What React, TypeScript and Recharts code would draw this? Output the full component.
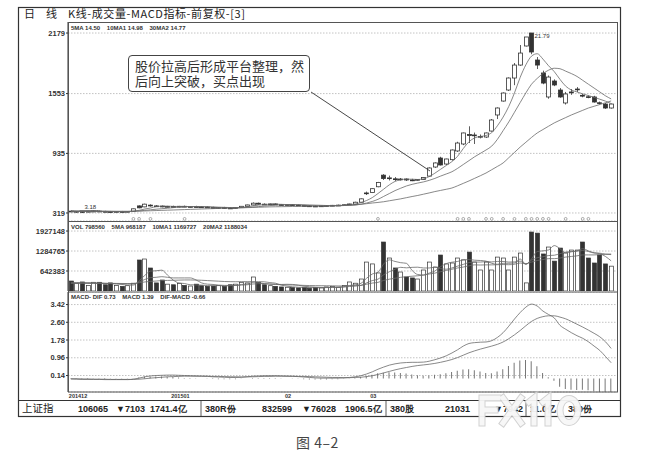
import React from "react";
import { ComposedChart, Bar, Line, XAxis, YAxis, CartesianGrid } from "recharts";

// daily candles, prices in 1/100 yuan (axis shows 319 ... 2179)
const OPEN = [
  338, 332, 334, 330, 336, 338, 335, 333, 331, 334,
  332, 335, 392, 382, 400, 392, 390, 382, 386, 384,
  388, 383, 385, 382, 380, 376, 372, 375, 370, 368,
  375, 388, 402, 420, 410, 408, 412, 405, 402, 404,
  400, 396, 392, 390, 388, 392, 395, 398, 400, 404,
  408, 430, 518, 530, 590, 710, 680, 672, 664, 670,
  660, 657, 665, 700, 794, 887, 825, 870, 960, 1032,
  1130, 1120, 1104, 1104, 1166, 1332, 1476, 1590, 1714, 1848,
  2045, 2179, 1900, 1766, 1518, 1683, 1590, 1456, 1565, 1595,
  1535, 1520, 1518, 1458, 1445, 1404,
];
const HIGH = [
  345, 340, 338, 340, 342, 344, 341, 340, 338, 340,
  338, 366, 398, 415, 408, 400, 396, 392, 394, 392,
  395, 390, 393, 388, 387, 383, 380, 382, 378, 378,
  390, 405, 428, 426, 418, 416, 418, 412, 410, 410,
  406, 402, 398, 396, 395, 398, 402, 405, 408, 415,
  435, 470, 540, 575, 640, 720, 705, 690, 680, 676,
  672, 670, 688, 790, 842, 900, 880, 975, 1055, 1150,
  1215, 1150, 1130, 1150, 1290, 1410, 1565, 1720, 1869, 2055,
  2138, 2179, 1931, 1790, 1740, 1700, 1610, 1570, 1600, 1620,
  1550, 1535, 1530, 1470, 1455, 1450,
];
const LOW = [
  328, 320, 318, 326, 330, 332, 329, 327, 326, 328,
  327, 332, 368, 378, 385, 384, 378, 376, 380, 377,
  380, 376, 379, 374, 372, 368, 366, 367, 362, 364,
  372, 385, 398, 405, 402, 400, 403, 398, 396, 397,
  393, 388, 386, 384, 383, 386, 390, 392, 395, 400,
  405, 428, 505, 525, 585, 660, 655, 650, 655, 650,
  648, 650, 660, 695, 785, 810, 815, 860, 950, 1020,
  1042, 1032, 1090, 1095, 1160, 1290, 1470, 1580, 1640, 1840,
  2040, 1960, 1807, 1650, 1500, 1630, 1510, 1440, 1540, 1570,
  1515, 1505, 1460, 1440, 1395, 1398,
];
const CLOSE = [
  332, 335, 330, 336, 338, 335, 333, 331, 334, 332,
  335, 362, 372, 410, 392, 388, 382, 386, 384, 388,
  383, 385, 382, 380, 376, 372, 375, 370, 368, 375,
  388, 402, 420, 410, 408, 412, 405, 402, 404, 400,
  396, 392, 390, 388, 392, 395, 398, 400, 404, 412,
  430, 465, 526, 570, 635, 675, 682, 668, 670, 660,
  657, 665, 685, 784, 836, 815, 877, 970, 1042, 1146,
  1120, 1125, 1110, 1146, 1280, 1404, 1559, 1714, 1848, 1972,
  2138, 1983, 1848, 1662, 1724, 1642, 1518, 1549, 1570, 1600,
  1528, 1516, 1466, 1454, 1404, 1445,
];
const MA5 = [
  335, 335, 334, 334, 334, 335, 335, 334, 333, 333,
  333, 338, 346, 360, 370, 385, 389, 390, 387, 386,
  385, 385, 384, 383, 381, 378, 375, 373, 372, 372,
  376, 383, 392, 400, 406, 410, 411, 408, 406, 404,
  401, 398, 395, 392, 391, 391, 393, 396, 399, 404,
  412, 426, 448, 478, 520, 565, 610, 645, 662, 668,
  668, 665, 672, 695, 730, 770, 810, 850, 905, 985,
  1055, 1095, 1110, 1120, 1150, 1220, 1310, 1420, 1560, 1720,
  1850, 1940, 1965, 1910, 1840, 1780, 1700, 1630, 1590, 1570,
  1550, 1532, 1515, 1495, 1475, 1450,
];
const MA10 = [
  337, 337, 336, 336, 336, 336, 336, 335, 335, 335,
  335, 337, 340, 346, 352, 358, 363, 368, 374, 380,
  384, 385, 385, 384, 383, 381, 379, 377, 375, 374,
  374, 376, 380, 385, 390, 395, 399, 402, 404, 405,
  405, 404, 402, 400, 398, 396, 395, 395, 396, 398,
  402, 410, 422, 438, 460, 490, 520, 550, 575, 598,
  615, 628, 640, 656, 676, 700, 722, 745, 780, 820,
  860, 900, 935, 970, 1010, 1080, 1170, 1260, 1360, 1460,
  1560, 1650, 1710, 1760, 1795, 1815, 1810, 1785, 1760, 1730,
  1690, 1650, 1610, 1570, 1530, 1498,
];
const MA30 = [
  342, 341, 340, 339, 338, 338, 337, 337, 336, 336,
  336, 337, 338, 340, 342, 344, 346, 348, 350, 352,
  354, 356, 358, 360, 362, 364, 366, 368, 370, 371,
  372, 374, 376, 378, 380, 382, 383, 384, 385, 386,
  387, 388, 389, 390, 391, 392, 393, 394, 396, 398,
  402, 408, 415, 422, 428, 435, 445, 455, 465, 477,
  489, 500, 513, 526, 540, 552, 564, 577, 600, 625,
  650, 677, 704, 732, 766, 800, 836, 890, 945, 1000,
  1050, 1100, 1146, 1181, 1216, 1250, 1278, 1305, 1332, 1356,
  1380, 1404, 1422, 1440, 1458, 1477,
];
// days carrying the small signal marks under the candles
const SIGNAL_DAYS = [11, 12, 14, 20, 54, 68, 69, 70, 73, 74, 76, 78, 80, 81, 82, 83, 84, 87, 90, 91];

const VOL = [
  320000, 250000, 290000, 180000, 280000, 280000, 200000, 260000, 180000, 150000,
  170000, 250000, 996000, 1028000, 739000, 260000, 353000, 220000, 200000, 240000,
  180000, 160000, 220000, 170000, 150000, 160000, 180000, 150000, 200000, 220000,
  280000, 260000, 450000, 280000, 200000, 170000, 150000, 130000, 120000, 110000,
  100000, 120000, 90000, 110000, 100000, 130000, 150000, 120000, 180000, 290000,
  250000, 385000, 930000, 870000, 580000, 1574000, 1060000, 740000, 610000, 450000,
  420000, 385000, 675000, 930000, 770000, 1156000, 870000, 900000, 1060000, 1000000,
  1250000, 930000, 675000, 930000, 675000, 1090000, 1060000, 675000, 1090000, 1220000,
  260000, 1895000, 1860000, 1190000, 1413000, 960000, 1380000, 1220000, 1316000, 1316000,
  1574000, 1060000, 900000, 1156000, 870000, 798560,
];
const VOL_MA5 = [
  260000, 265000, 270000, 265000, 265000, 260000, 245000, 240000, 230000, 210000,
  190000, 190000, 330000, 500000, 640000, 650000, 670000, 510000, 350000, 260000,
  240000, 200000, 195000, 190000, 175000, 170000, 175000, 165000, 170000, 180000,
  210000, 225000, 280000, 300000, 295000, 270000, 250000, 190000, 155000, 135000,
  120000, 115000, 110000, 105000, 105000, 110000, 115000, 120000, 140000, 175000,
  200000, 245000, 410000, 545000, 600000, 870000, 1000000, 950000, 910000, 890000,
  660000, 530000, 515000, 575000, 640000, 780000, 880000, 925000, 950000, 1000000,
  1010000, 990000, 980000, 960000, 890000, 860000, 890000, 890000, 900000, 1030000,
  860000, 1030000, 1270000, 1290000, 1320000, 1460000, 1360000, 1230000, 1260000, 1290000,
  1360000, 1290000, 1230000, 1200000, 1110000, 968187,
];
const VOL_MA10 = [
  250000, 248000, 246000, 244000, 242000, 240000, 238000, 236000, 234000, 232000,
  230000, 225000, 290000, 370000, 430000, 440000, 460000, 440000, 420000, 420000,
  420000, 420000, 355000, 260000, 220000, 210000, 190000, 180000, 180000, 178000,
  190000, 200000, 225000, 235000, 238000, 225000, 215000, 210000, 215000, 210000,
  185000, 155000, 135000, 122000, 115000, 115000, 118000, 118000, 125000, 145000,
  160000, 180000, 260000, 335000, 380000, 520000, 620000, 700000, 760000, 745000,
  760000, 765000, 740000, 740000, 765000, 720000, 700000, 740000, 800000, 855000,
  913000, 930000, 930000, 945000, 935000, 950000, 950000, 930000, 935000, 960000,
  860000, 990000, 1070000, 1100000, 1140000, 1150000, 1200000, 1250000, 1270000, 1280000,
  1300000, 1270000, 1220000, 1215000, 1185000, 1169727,
];
const VOL_MA20 = [
  260000, 258000, 256000, 254000, 252000, 250000, 248000, 246000, 244000, 242000,
  240000, 240000, 265000, 290000, 310000, 320000, 335000, 340000, 345000, 350000,
  355000, 355000, 352000, 345000, 335000, 325000, 315000, 305000, 300000, 298000,
  300000, 300000, 300000, 270000, 235000, 220000, 212000, 200000, 195000, 192000,
  188000, 180000, 175000, 172000, 170000, 168000, 165000, 162000, 162000, 168000,
  172000, 180000, 218000, 255000, 278000, 340000, 380000, 410000, 440000, 460000,
  475000, 490000, 510000, 545000, 575000, 620000, 660000, 700000, 740000, 770000,
  810000, 840000, 835000, 840000, 840000, 845000, 850000, 845000, 860000, 900000,
  880000, 930000, 980000, 1010000, 1040000, 1040000, 1060000, 1090000, 1110000, 1130000,
  1160000, 1160000, 1160000, 1170000, 1180000, 1188034,
];

const DIF = [
  -0.02, -0.03, -0.04, -0.04, -0.04, -0.04, -0.05, -0.05, -0.05, -0.05,
  -0.05, -0.03, 0.02, 0.08, 0.12, 0.14, 0.15, 0.16, 0.16, 0.15,
  0.14, 0.13, 0.12, 0.11, 0.1, 0.08, 0.07, 0.06, 0.05, 0.05,
  0.06, 0.08, 0.11, 0.12, 0.13, 0.13, 0.13, 0.12, 0.11, 0.1,
  0.09, 0.07, 0.05, 0.03, 0.02, 0.02, 0.02, 0.02, 0.03, 0.05,
  0.08, 0.13, 0.21, 0.31, 0.43, 0.53, 0.62, 0.68, 0.72, 0.74,
  0.75, 0.75, 0.76, 0.8, 0.87, 0.95, 1.05, 1.18, 1.33, 1.5,
  1.62, 1.66, 1.68, 1.69, 1.75, 1.9, 2.12, 2.42, 2.75, 3.05,
  3.3, 3.44, 3.35, 3.12, 2.96, 2.8, 2.46, 2.28, 2.12, 1.98,
  1.86, 1.7, 1.5, 1.3, 1.02, 0.73,
];
const DEA = [
  -0.01, -0.01, -0.02, -0.02, -0.03, -0.03, -0.03, -0.04, -0.04, -0.04,
  -0.04, -0.04, -0.03, -0.01, 0.02, 0.04, 0.06, 0.08, 0.09, 0.1,
  0.11, 0.11, 0.11, 0.11, 0.11, 0.1, 0.1, 0.09, 0.08, 0.08,
  0.07, 0.08, 0.08, 0.09, 0.1, 0.1, 0.11, 0.11, 0.11, 0.11,
  0.1, 0.1, 0.09, 0.08, 0.07, 0.06, 0.05, 0.05, 0.04, 0.04,
  0.05, 0.06, 0.09, 0.13, 0.19, 0.26, 0.33, 0.4, 0.46, 0.51,
  0.56, 0.6, 0.63, 0.66, 0.7, 0.75, 0.81, 0.88, 0.97, 1.08,
  1.19, 1.28, 1.36, 1.43, 1.5, 1.58, 1.69, 1.84, 2.02, 2.22,
  2.44, 2.64, 2.78, 2.86, 2.9, 2.9, 2.84, 2.76, 2.64, 2.51,
  2.38, 2.24, 2.09, 1.93, 1.7, 1.39,
];
const HIST = [
  -0.01, -0.02, -0.02, -0.02, -0.01, -0.01, -0.02, -0.01, -0.01, -0.01,
  -0.01, 0.01, 0.05, 0.09, 0.1, 0.1, 0.09, 0.08, 0.07, 0.05,
  0.03, 0.02, 0.01, 0, -0.01, -0.02, -0.03, -0.03, -0.03, -0.03,
  -0.01, 0, 0.03, 0.03, 0.03, 0.03, 0.02, 0.01, 0, -0.01,
  -0.01, -0.03, -0.04, -0.05, -0.05, -0.04, -0.03, -0.03, -0.01, 0.01,
  0.03, 0.07, 0.12, 0.18, 0.24, 0.27, 0.29, 0.28, 0.26, 0.23,
  0.19, 0.15, 0.13, 0.14, 0.17, 0.2, 0.24, 0.3, 0.36, 0.42,
  0.43, 0.38, 0.32, 0.26, 0.25, 0.32, 0.43, 0.58, 0.73, 0.83,
  0.86, 0.8, 0.57, 0.26, 0.06, -0.1, -0.38, -0.48, -0.52, -0.53,
  -0.52, -0.54, -0.59, -0.63, -0.68, -0.66,
];

const MONTH_TICKS = [0, 18, 38, 53];
const MONTH_LABELS = ["201412", "201501", "02", "03"];
const PRICE_TICKS = [319, 935, 1553, 2179];
const VOL_TICKS = [642383, 1284765, 1927148];
const MACD_TICKS = [0.14, 0.96, 1.78, 2.6, 3.42];

const INK = "#333";
const LINE = "#6a6a6a";
const GRID = "#9a9a9a";
const NUM_FONT = '"Liberation Sans", "DejaVu Sans", Arial, sans-serif';
const CJK_FONT = '"Noto Sans CJK SC", sans-serif';
const SIGNAL_LEVEL = 258;

const rows = OPEN.map((o, i) => ({
  i,
  o,
  h: HIGH[i],
  l: LOW[i],
  c: CLOSE[i],
  range: [LOW[i], HIGH[i]],
  ma5: MA5[i],
  ma10: MA10[i],
  ma30: MA30[i],
  sig: SIGNAL_DAYS.includes(i) ? SIGNAL_LEVEL : null,
  vol: VOL[i],
  vma5: VOL_MA5[i],
  vma10: VOL_MA10[i],
  vma20: VOL_MA20[i],
  dif: DIF[i],
  dea: DEA[i],
  hist: HIST[i],
}));

const peakHigh = Math.max(...HIGH);
const bottomLow = Math.min(...LOW);

const tickStyle = { fontSize: 7.5, fontWeight: 700, fill: INK, fontFamily: NUM_FONT };
const legendStyle = { whiteSpace: "pre" as const };

function Candle(props: any) {
  const { x, y, width, height, payload } = props;
  if (x == null || !payload) return <g />;
  const { o, h, l, c } = payload;
  const top = Math.min(y, y + height);
  const span = Math.abs(height);
  const toY = (v: number) => (h > l ? top + ((h - v) / (h - l)) * span : top);
  const cx = Math.round(x + width / 2) + 0.5;
  const bodyTop = toY(Math.max(o, c));
  const bodyBot = toY(Math.min(o, c));
  const up = c >= o;
  const bw = 4;
  return (
    <g>
      <line x1={cx} x2={cx} y1={top} y2={bodyTop} stroke={INK} strokeWidth={0.8} />
      <line x1={cx} x2={cx} y1={bodyBot} y2={top + span} stroke={INK} strokeWidth={0.8} />
      <rect
        x={cx - bw / 2}
        y={bodyTop}
        width={bw}
        height={Math.max(bodyBot - bodyTop, 0.8)}
        fill={up ? "#fff" : INK}
        stroke={INK}
        strokeWidth={0.8}
      />
      {h === peakHigh && (
        <text x={cx + 3} y={top + 4.5} fontSize={6} fill={INK} fontFamily={NUM_FONT}>
          {(h / 100).toFixed(2)}
        </text>
      )}
      {l === bottomLow && (
        <g>
          <text x={cx + 2} y={top + span - 4} fontSize={6} fill={INK} fontFamily={NUM_FONT}>
            {(l / 100).toFixed(2)}
          </text>
          <line x1={cx - 3} x2={cx + 16} y1={top + span - 2.5} y2={top + span - 2.5} stroke={INK} strokeWidth={0.6} />
        </g>
      )}
    </g>
  );
}

function VolBar(props: any) {
  const { x, y, width, height, payload } = props;
  if (x == null || !payload) return <g />;
  const up = payload.c >= payload.o;
  const top = Math.min(y, y + height);
  const bw = 4;
  const cx = Math.round(x + width / 2) + 0.5;
  return (
    <rect
      x={cx - bw / 2}
      y={top}
      width={bw}
      height={Math.abs(height)}
      fill={up ? "#fff" : INK}
      stroke={INK}
      strokeWidth={0.7}
    />
  );
}

function SignalDot(props: any) {
  const { cx, cy, value, index } = props;
  if (value == null || cx == null || cy == null) return <g key={index} />;
  return <circle key={index} cx={cx} cy={cy} r={1.4} fill="#fff" stroke="#777" strokeWidth={0.6} />;
}

function MonthTick(props: any) {
  const { x, y, payload } = props;
  const k = MONTH_TICKS.indexOf(payload.value);
  if (k < 0) return <g />;
  return (
    <text x={x - 2} y={y + 6} fontSize={5.5} fontWeight={700} fill={INK} fontFamily={NUM_FONT}>
      {MONTH_LABELS[k]}
    </text>
  );
}

// faint site watermark drawn as strokes (F X 1 1 0)
function Watermark() {
  const parts = (
    <>
      <path d="M482 423 V398 H498 M482 410 H495" />
      <path d="M503 398 L521 423 M521 398 L503 423" />
      <path d="M529 402 L534 398 V423" />
      <path d="M543 402 L548 398 V423" />
      <ellipse cx={569} cy={410.5} rx={9} ry={12} />
    </>
  );
  return (
    <g fill="none" strokeLinecap="square" opacity={0.95}>
      <g stroke="#d0d0d0" strokeWidth={7}>{parts}</g>
      <g stroke="#f7f7f7" strokeWidth={5}>{parts}</g>
    </g>
  );
}

const MARGIN = { top: 0, right: 29, bottom: 0, left: 0 };
const XPAD = { left: 0, right: 3 };

export default function App() {
  return (
    <div style={{ position: "absolute", left: 0, top: 0, width: 646, height: 455, background: "#fff", overflow: "hidden" }}>
      {/* price panel */}
      <div style={{ position: "absolute", left: 0, top: 22 }}>
        <ComposedChart width={646} height={199} data={rows} margin={MARGIN}>
          <CartesianGrid vertical={false} stroke={GRID} strokeDasharray="1.5 1.5" strokeWidth={0.6} />
          <XAxis dataKey="i" hide padding={XPAD} />
          <YAxis
            type="number"
            domain={[236, 2293]}
            ticks={PRICE_TICKS}
            interval={0}
            allowDataOverflow
            width={68}
            tickSize={2}
            tickMargin={1}
            tick={tickStyle}
            tickLine={{ stroke: INK }}
            axisLine={{ stroke: INK }}
          />
          <Bar dataKey="range" barSize={5} shape={<Candle />} isAnimationActive={false} />
          <Line type="monotone" dataKey="ma5" stroke={LINE} strokeWidth={0.8} dot={false} activeDot={false} isAnimationActive={false} />
          <Line type="monotone" dataKey="ma10" stroke={LINE} strokeWidth={0.8} dot={false} activeDot={false} isAnimationActive={false} />
          <Line type="monotone" dataKey="ma30" stroke={LINE} strokeWidth={0.8} dot={false} activeDot={false} isAnimationActive={false} />
          <Line dataKey="sig" stroke="none" dot={SignalDot} activeDot={false} isAnimationActive={false} />
        </ComposedChart>
      </div>

      {/* volume panel */}
      <div style={{ position: "absolute", left: 0, top: 221 }}>
        <ComposedChart width={646} height={70} data={rows} margin={MARGIN}>
          <CartesianGrid vertical={false} stroke={GRID} strokeDasharray="1.5 1.5" strokeWidth={0.6} />
          <XAxis dataKey="i" hide padding={XPAD} />
          <YAxis
            type="number"
            domain={[0, 2250000]}
            ticks={VOL_TICKS}
            interval={0}
            allowDataOverflow
            width={68}
            tickSize={2}
            tickMargin={1}
            tick={tickStyle}
            tickLine={{ stroke: INK }}
            axisLine={{ stroke: INK }}
          />
          <Bar dataKey="vol" barSize={5} shape={<VolBar />} isAnimationActive={false} />
          <Line type="monotone" dataKey="vma5" stroke={LINE} strokeWidth={0.8} dot={false} activeDot={false} isAnimationActive={false} />
          <Line type="monotone" dataKey="vma10" stroke={LINE} strokeWidth={0.8} dot={false} activeDot={false} isAnimationActive={false} />
          <Line type="monotone" dataKey="vma20" stroke={LINE} strokeWidth={0.8} dot={false} activeDot={false} isAnimationActive={false} />
        </ComposedChart>
      </div>

      {/* MACD panel */}
      <div style={{ position: "absolute", left: 0, top: 292 }}>
        <ComposedChart width={646} height={108} data={rows} margin={MARGIN}>
          <CartesianGrid vertical={false} stroke={GRID} strokeDasharray="1.5 1.5" strokeWidth={0.6} />
          <XAxis
            dataKey="i"
            padding={XPAD}
            interval={0}
            height={8}
            tickSize={0}
            tickMargin={0}
            axisLine={false}
            tickLine={false}
            tick={<MonthTick />}
          />
          <YAxis
            type="number"
            domain={[-0.622, 4]}
            ticks={MACD_TICKS}
            interval={0}
            allowDataOverflow
            width={68}
            tickSize={2}
            tickMargin={1}
            tick={tickStyle}
            tickFormatter={(v: number) => v.toFixed(2)}
            tickLine={{ stroke: INK }}
            axisLine={{ stroke: INK }}
          />
          <Bar dataKey="hist" barSize={1} fill="#777" isAnimationActive={false} />
          <Line type="monotone" dataKey="dif" stroke={LINE} strokeWidth={0.8} dot={false} activeDot={false} isAnimationActive={false} />
          <Line type="monotone" dataKey="dea" stroke={LINE} strokeWidth={0.8} dot={false} activeDot={false} isAnimationActive={false} />
        </ComposedChart>
      </div>

      {/* frame, titles, pointer, status row */}
      <svg width={646} height={455} style={{ position: "absolute", left: 0, top: 0, pointerEvents: "none" }}>
        <rect x={18.5} y={7.5} width={602} height={409} fill="none" stroke={INK} strokeWidth={1.2} />
        <rect x={68.5} y={22.5} width={549} height={369.5} fill="none" stroke="#555" strokeWidth={1} />
        <line x1={68} x2={618} y1={221.5} y2={221.5} stroke="#555" strokeWidth={1} />
        <line x1={68} x2={618} y1={292} y2={292} stroke="#555" strokeWidth={1} />
        <line x1={18} x2={621} y1={400.5} y2={400.5} stroke={INK} strokeWidth={1} />

        <text x={24} y={18} fontSize={11} fill="#222" fontFamily={CJK_FONT}>日</text>
        <text x={46} y={18} fontSize={11} fill="#222" fontFamily={CJK_FONT}>线</text>
        <text x={68} y={18} fontSize={11} fill="#222" fontFamily={CJK_FONT} letterSpacing={0.6}>
          K线-成交量-MACD指标-前复权-[3]
        </text>

        <text x={71} y={30} fontSize={6} fontWeight={700} fill={INK} fontFamily={NUM_FONT} style={legendStyle}>
          {"5MA 14.50    10MA1 14.98    30MA2 14.77"}
        </text>
        <text x={71} y={228.5} fontSize={6} fontWeight={700} fill={INK} fontFamily={NUM_FONT} style={legendStyle}>
          {"VOL 798560    5MA 968187    10MA1 1169727    20MA2 1188034"}
        </text>
        <text x={71} y={299} fontSize={6} fontWeight={700} fill={INK} fontFamily={NUM_FONT} style={legendStyle}>
          {"MACD- DIF 0.73    MACD 1.39    DIF-MACD -0.66"}
        </text>

        <line x1={311} y1={92} x2={430} y2={171} stroke={INK} strokeWidth={0.9} />

        <g fontFamily={NUM_FONT} fontSize={9} fontWeight={700} fill="#222">
          <text x={22} y={412} fontSize={10.5} fontWeight={400} fontFamily={CJK_FONT}>上证指</text>
          <text x={78} y={412}>106065</text>
          <text x={116} y={412}>▼7103</text>
          <text x={150} y={412}>1741.4亿</text>
          <text x={205} y={412}>380R份</text>
          <text x={262} y={412}>832599</text>
          <text x={302} y={412}>▼76028</text>
          <text x={345} y={412}>1906.5亿</text>
          <text x={390} y={412}>380股</text>
          <text x={445} y={412}>21031</text>
          <text x={494} y={412}>▼7942</text>
          <text x={530} y={412}>11.0亿</text>
          <text x={568} y={412}>380份</text>
        </g>
        <line x1={201} x2={201} y1={401} y2={416} stroke={INK} strokeWidth={0.8} />
        <line x1={386} x2={386} y1={401} y2={416} stroke={INK} strokeWidth={0.8} />
        <line x1={526} x2={526} y1={401} y2={416} stroke={INK} strokeWidth={0.8} />

        <Watermark />

        <text x={296} y={448} fontSize={14} fill="#444" fontFamily={CJK_FONT} letterSpacing={0.5}>图 4–2</text>
      </svg>

      {/* annotation box */}
      <div
        style={{
          position: "absolute",
          left: 128,
          top: 55,
          width: 182,
          height: 37,
          boxSizing: "border-box",
          border: "1.2px solid #444",
          borderRadius: 4,
          background: "#fff",
          padding: "3px 0 0 6px",
          fontFamily: CJK_FONT,
          fontSize: 13,
          lineHeight: "14.5px",
          color: "#333",
          whiteSpace: "pre",
        }}
      >
        {"股价拉高后形成平台整理，然\n后向上突破，买点出现"}
      </div>
    </div>
  );
}
